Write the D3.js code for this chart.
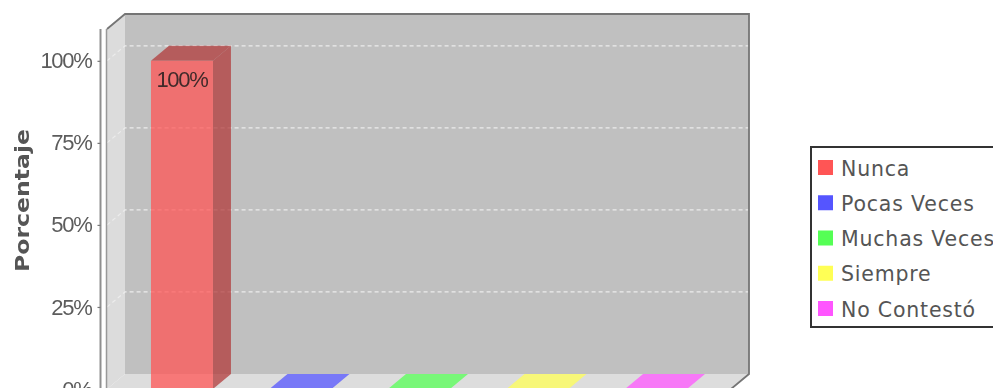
<!DOCTYPE html>
<html><head><meta charset="utf-8">
<script src="https://cdn.jsdelivr.net/npm/d3@7/dist/d3.min.js"></script>
<style>
html,body{margin:0;padding:0;background:#fff;overflow:hidden}
svg{display:block;filter:blur(0.65px)}
</style></head><body>
<svg id="c" width="993" height="388"></svg>
<script>
const categories = ["Nunca","Pocas Veces","Muchas Veces","Siempre","No Contestó"];
const seriesValues = [1,0,0,0,0];
const barColors = ["#ff5555","#5555ff","#55ff55","#ffff55","#ff55ff"];
const sideColors = ["#b23b3b","#3b3bb2","#3bb23b","#b2b23b","#b23bb2"];
const tickValues = [0,0.25,0.5,0.75,1];
const axisTitle = "Porcentaje";

const svg = d3.select("#c");
const dx = 18, dy = 15;
const plot = {left:107, right:731, top:29, bottom:389};
const x = d3.scaleBand().domain(categories).range([plot.left,plot.right]).paddingInner(0.477).paddingOuter(0.371);
const y = d3.scaleLinear().domain([0,1.097]).range([plot.bottom,plot.top]);
const pts = a => a.map(p=>p.join(",")).join(" ");

// walls
svg.append("polygon").attr("points",pts([[plot.left+dx,plot.top-dy],[plot.right+dx,plot.top-dy],[plot.right+dx,plot.bottom-dy],[plot.left+dx,plot.bottom-dy]])).attr("fill","#c0c0c0");
svg.append("polygon").attr("points",pts([[plot.left,plot.top],[plot.left+dx,plot.top-dy],[plot.left+dx,plot.bottom-dy],[plot.left,plot.bottom]])).attr("fill","#dcdcdc");
svg.append("polygon").attr("points",pts([[plot.left,plot.bottom],[plot.left+dx,plot.bottom-dy],[plot.right+dx,plot.bottom-dy],[plot.right,plot.bottom]])).attr("fill","#dddddd");

// gridlines
svg.append("g").selectAll("polyline").data(tickValues.filter(d=>d>0)).join("polyline")
  .attr("points",d=>pts([[plot.left,y(d)],[plot.left+dx,y(d)-dy],[plot.right+dx,y(d)-dy]]))
  .attr("fill","none").attr("stroke","#ececec").attr("stroke-width",1.2).attr("stroke-dasharray","4 3");

// outline
svg.append("polyline").attr("points",pts([[plot.left,plot.top],[plot.left+dx,plot.top-dy],[plot.right+dx,plot.top-dy],[plot.right+dx,plot.bottom-dy],[plot.right,plot.bottom]]))
  .attr("fill","none").attr("stroke","#757575").attr("stroke-width",1.8);
svg.append("line").attr("x1",plot.left-0.5).attr("x2",plot.left-0.5).attr("y1",plot.top).attr("y2",plot.bottom).attr("stroke","#999").attr("stroke-width",1.5);

// bars
const bars = svg.append("g").selectAll("g").data(categories).join("g");
const bw = x.bandwidth();
bars.append("polygon").attr("points",(c,i)=>{const l=x(c),t=y(seriesValues[i]);return pts([[l+bw,t],[l+bw+dx,t-dy],[l+bw+dx,plot.bottom-dy],[l+bw,plot.bottom]]);})
  .attr("fill",(c,i)=>sideColors[i]).attr("fill-opacity",0.75).attr("display",(c,i)=>seriesValues[i]>0?null:"none");
bars.append("polygon").attr("points",(c,i)=>{const l=x(c),t=y(seriesValues[i]);return pts([[l,t],[l+dx,t-dy],[l+bw+dx,t-dy],[l+bw,t]]);})
  .attr("fill",(c,i)=>seriesValues[i]>0?sideColors[i]:barColors[i]).attr("fill-opacity",0.75);
bars.append("rect").attr("x",c=>x(c)).attr("width",bw).attr("y",(c,i)=>y(seriesValues[i])).attr("height",(c,i)=>plot.bottom-y(seriesValues[i]))
  .attr("fill",(c,i)=>barColors[i]).attr("fill-opacity",0.75);
bars.filter((c,i)=>seriesValues[i]>0).append("text")
  .attr("x",c=>x(c)+bw/2).attr("y",(c)=>y(seriesValues[categories.indexOf(c)])+26)
  .attr("text-anchor","middle").attr("font-family","Liberation Sans").attr("font-size",22).attr("letter-spacing",-1.3).attr("fill","#402a2a")
  .text(c=>d3.format(".0%")(seriesValues[categories.indexOf(c)]));

// value axis
const axis = d3.axisLeft(y).tickValues(tickValues).tickFormat(d3.format(".0%")).tickSize(3).tickPadding(6);
const ag = svg.append("g").attr("transform","translate(100.5,0)").call(axis);
ag.select(".domain").attr("d",`M0,${plot.top}V${plot.bottom}`).attr("stroke","#8f8f8f").attr("stroke-width",2);
ag.selectAll(".tick line").attr("stroke","#777").attr("stroke-width",1.2);
ag.selectAll(".tick text").attr("font-family","Liberation Sans").attr("font-size",22).attr("fill","#5c5c5c").attr("letter-spacing",-1.3);

// axis title
svg.append("text").attr("transform","translate(29,200.5) rotate(-90)").attr("text-anchor","middle")
  .attr("font-family","DejaVu Sans").attr("font-weight","bold").attr("font-size",20).attr("fill","#555")
  .attr("textLength",143).attr("lengthAdjust","spacingAndGlyphs").text(axisTitle);

// legend
const legY = d3.scalePoint().domain(categories).range([168,309]);
svg.append("rect").attr("x",811).attr("y",147).attr("width",200).attr("height",180).attr("fill","#fff").attr("stroke","#333").attr("stroke-width",2);
const leg = svg.append("g").selectAll("g").data(categories).join("g");
leg.append("rect").attr("x",818).attr("width",15).attr("height",15).attr("y",c=>legY(c)-8).attr("fill",(c,i)=>barColors[i]);
leg.append("text").attr("x",841).attr("y",c=>legY(c)+7.5).attr("font-family","DejaVu Sans").attr("font-size",20.5).attr("letter-spacing",0.8).attr("fill","#555").text(c=>c);
</script>
</body></html>
